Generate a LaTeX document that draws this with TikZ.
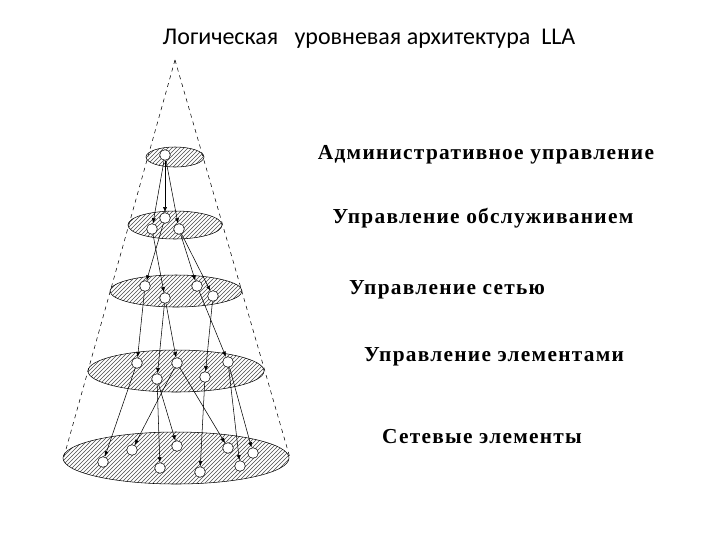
\documentclass[tikz,border=0pt]{standalone}
\usepackage{fontspec}
\setmainfont{Liberation Serif}
\newfontfamily\titlefont{Carlito}
\newfontfamily\labfont[LetterSpace=6]{Liberation Serif}
\usetikzlibrary{patterns,arrows.meta}
\begin{document}
\begin{tikzpicture}[x=0.75pt,y=-0.75pt,
  lvl/.style={draw,thin,pattern=north east lines,pattern color=black!70},
  nd/.style={circle,draw,thin,fill=white,inner sep=0pt,minimum size=8pt},
  ar/.style={-{Latex[length=4pt,width=3pt]},thin},
  lab/.style={font=\labfont\bfseries\fontsize{16}{18}\selectfont,anchor=center},
  cone/.style={dashed,thin}]
\useasboundingbox (0,0) rectangle (720,540);
\node[font=\titlefont\fontsize{18}{21}\selectfont] (t) at (369,39) {Логическая\ \ \ уровневая архитектура\ \ LLA};
\coordinate (apex) at (175,60);
\coordinate (bl) at (63,460);
\coordinate (br) at (290,458);
\draw[cone] (apex) -- (bl);
\draw[cone] (apex) -- (br);
\draw[lvl] (175,157) ellipse (29 and 10);
\draw[lvl] (175,225) ellipse (47 and 14);
\draw[lvl] (176,291) ellipse (66 and 16);
\draw[lvl] (176,371) ellipse (88 and 21);
\draw[lvl] (176,458) ellipse (113 and 26);
% nodes
\node[nd] (a1) at (165,155) {};
\node[nd] (b1) at (165,218) {};
\node[nd] (b2) at (152,229) {};
\node[nd] (b3) at (179,229) {};
\node[nd] (c1) at (145,286) {};
\node[nd] (c2) at (165,298) {};
\node[nd] (c3) at (197,286) {};
\node[nd] (c4) at (213,296) {};
\node[nd] (d1) at (137,363) {};
\node[nd] (d2) at (177,363) {};
\node[nd] (d3) at (157,379) {};
\node[nd] (d4) at (205,377) {};
\node[nd] (d5) at (228,362) {};
\node[nd] (e1) at (103,462) {};
\node[nd] (e2) at (132,450) {};
\node[nd] (e3) at (177,446) {};
\node[nd] (e4) at (160,468) {};
\node[nd] (e5) at (200,472) {};
\node[nd] (e6) at (228,448) {};
\node[nd] (e7) at (253,453) {};
\node[nd] (e8) at (240,466) {};
% connectors
\draw[ar] (a1) -- (b1);
\draw[ar] (a1) -- (b2);
\draw[ar] (a1) -- (b3);
\draw[ar] (b1) -- (c1);
\draw[ar] (b2) -- (c2);
\draw[ar] (b3) -- (c3);
\draw[ar] (b3) -- (c4);
\draw[ar] (c1) -- (d1);
\draw[ar] (c2) -- (d3);
\draw[ar] (c2) -- (d2);
\draw[ar] (c4) -- (d4);
\draw[ar] (c3) -- (d5);
\draw[ar] (d1) -- (e1);
\draw[ar] (d2) -- (e2);
\draw[ar] (d3) -- (e4);
\draw[ar] (d3) -- (e3);
\draw[ar] (d4) -- (e5);
\draw[ar] (d2) -- (e6);
\draw[ar] (d5) -- (e8);
\draw[ar] (d5) -- (e7);
% labels
\node[lab] (l1) at (486,155) {Административное управление};
\node[lab] (l2) at (483,218) {Управление обслуживанием};
\node[lab] (l3) at (447,290) {Управление сетью};
\node[lab] (l4) at (494,357) {Управление элементами};
\node[lab] (l5) at (482,437) {Сетевые элементы};
\end{tikzpicture}
\end{document}
